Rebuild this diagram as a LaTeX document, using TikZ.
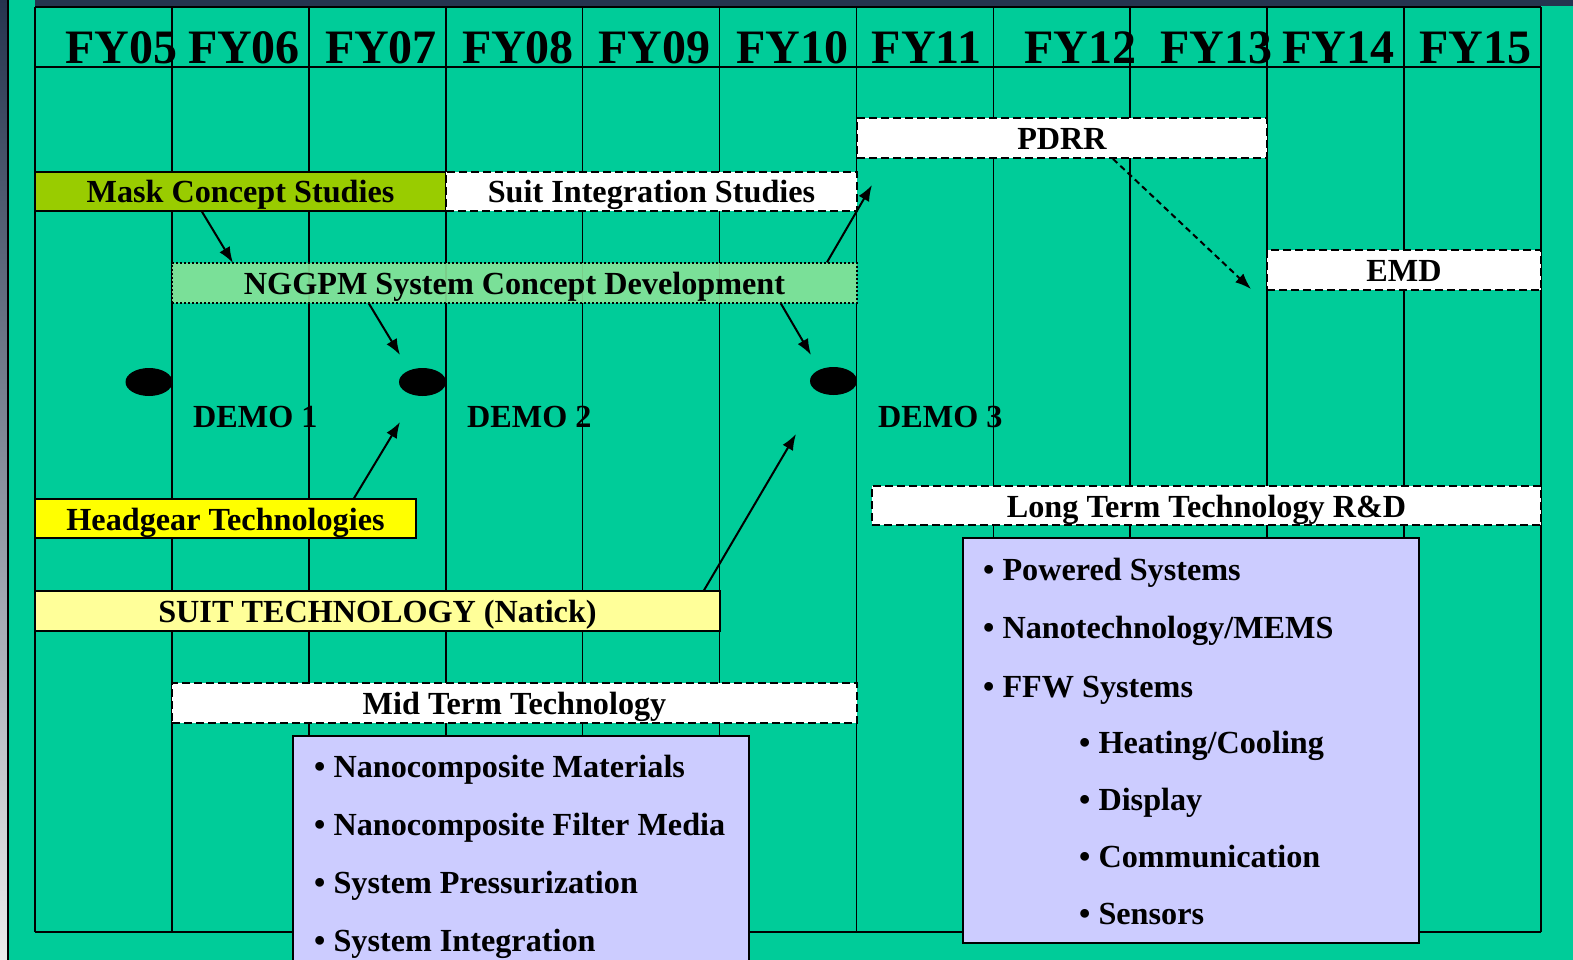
\documentclass[tikz,border=0pt]{standalone}
\usepackage{fontspec}
\setmainfont{Liberation Serif}
\usetikzlibrary{arrows.meta,shapes.geometric}

\definecolor{fondo}{HTML}{00CC99}
\definecolor{blunotte}{HTML}{25344F}
\definecolor{verdemask}{HTML}{99CC00}
\definecolor{verdechiaro}{HTML}{88E398}
\definecolor{giallo}{HTML}{FFFF00}
\definecolor{giallino}{HTML}{FFFF99}
\definecolor{lavanda}{HTML}{CCCCFF}

\tikzset{
	barra/.style={draw, line width=1.5pt, inner sep=0pt, text height=23pt, text depth=0pt,
		font=\fontsize{32.2}{36}\selectfont\bfseries},
	tratteggio/.style={barra, fill=white, line width=1.8pt, dash pattern=on 8pt off 4pt},
	anno/.style={anchor=base, inner sep=0pt, font=\fontsize{48}{50}\selectfont\bfseries},
	testo/.style={anchor=base west, inner sep=0pt, font=\fontsize{32.2}{36}\selectfont\bfseries},
	riquadro/.style={draw, line width=1.5pt, fill=lavanda, inner sep=0pt},
	demo/.style={ellipse, fill=black, inner sep=0pt, minimum width=47pt, minimum height=28pt},
	freccia/.style={line width=2pt, -{Latex[length=16pt,width=12pt]}}
}

\begin{document}
\begin{tikzpicture}[x=1pt, y=-1pt]
	\useasboundingbox (0,0) rectangle (1573,960);
	
	% sfondo
	\fill[fondo] (8,0) rectangle (1573,960);
	\shade[top color=blunotte, bottom color=gray!15] (0,0) rectangle (7,960);
	\fill[blunotte] (35,0) rectangle (1573,6);
	\draw[line width=2pt] (8,0) -- (8,960);
	
	% griglia degli anni
	\foreach \i in {0,...,11}
		\draw[line width=1.6pt] ({35+136.9*\i},7) -- ({35+136.9*\i},932);
	\draw[line width=1.6pt] (35,7) -- (1541,7);
	\draw[line width=1.6pt] (35,67) -- (1541,67);
	\draw[line width=1.6pt] (35,932) -- (1541,932);
	
	\foreach \x/\n in {121.5/05, 244/06, 381/07, 518/08, 654.5/09, 792/10,
		926.5/11, 1080/12, 1216/13, 1338/14, 1475/15}
		\node[anno] (fy\n) at (\x,64) {FY\n};
	
	% barre
	\node[barra, fill=verdemask, minimum width=411pt, minimum height=39pt] (mask) at (240.5,191.5) {Mask Concept Studies};
	\node[tratteggio, minimum width=411pt, minimum height=39pt] (suitint) at (651.5,191.5) {Suit Integration Studies};
	\node[tratteggio, minimum width=410pt, minimum height=40pt] (pdrr) at (1062,138) {PDRR};
	\node[tratteggio, minimum width=274pt, minimum height=40pt] (emd) at (1404,270) {EMD};
	\node[barra, fill=verdechiaro, fill opacity=0.9, text opacity=1, dash pattern=on 2pt off 2pt,
		minimum width=685pt, minimum height=40pt] (nggpm) at (514.5,283) {NGGPM System Concept Development};
	\node[barra, fill=giallo, minimum width=381pt, minimum height=39pt] (headgear) at (225.5,518.5) {Headgear Technologies};
	\node[barra, fill=giallino, minimum width=685pt, minimum height=40pt] (suittech) at (377.5,611) {SUIT TECHNOLOGY (Natick)};
	\node[tratteggio, minimum width=685pt, minimum height=40pt] (midterm) at (514.5,703) {Mid Term Technology};
	\node[tratteggio, minimum width=669pt, minimum height=39pt] (longterm) at (1206.5,505.5) {Long Term Technology R\&D};
	
	% dimostratori
	\node[demo] (demo1) at (149,382) {};
	\node[demo] (demo2) at (422.5,382) {};
	\node[demo] (demo3) at (833.5,381) {};
	\node[testo] (lab1) at (193,427) {DEMO 1};
	\node[testo] (lab2) at (467,427) {DEMO 2};
	\node[testo] (lab3) at (878,427) {DEMO 3};
	
	% frecce
	\coordinate (p1) at (233,263);
	\coordinate (p2) at (400,355);
	\coordinate (p3) at (872,185);
	\coordinate (p4) at (811,355);
	\coordinate (p5) at (400,422);
	\coordinate (p6) at (796,434);
	\coordinate (p7) at (1251,289);
	\draw[freccia] ([xshift=-38.5pt]mask.south) -- (p1);
	\draw[freccia] ([xshift=-145.5pt]nggpm.south) -- (p2);
	\draw[freccia] ([xshift=312.5pt]nggpm.north) -- (p3);
	\draw[freccia] ([xshift=266.5pt]nggpm.south) -- (p4);
	\draw[freccia] ([xshift=128.5pt]headgear.north) -- (p5);
	\draw[freccia] ([xshift=326.5pt]suittech.north) -- (p6);
	\draw[freccia, dash pattern=on 6pt off 4pt] ([xshift=51pt]pdrr.south) -- (p7);
	
	% elenchi
	\node[riquadro, minimum width=456pt, minimum height=250pt] (midbox) at (521,861) {};
	\foreach \t [count=\i] in {Nanocomposite Materials, Nanocomposite Filter Media,
		System Pressurization, System Integration}
		\node[testo] (mid\i) at (314,{777+58*(\i-1)}) {\textbullet\ \t};
	
	\node[riquadro, minimum width=456pt, minimum height=405pt] (longbox) at (1191,740.5) {};
	\foreach \t [count=\i] in {Powered Systems, Nanotechnology/MEMS, FFW Systems}
		\node[testo] (long\i) at (983,{580+58.5*(\i-1)}) {\textbullet\ \t};
	\foreach \t [count=\i] in {Heating/Cooling, Display, Communication, Sensors}
		\node[testo] (sub\i) at (1079,{753+57.3*(\i-1)}) {\textbullet\ \t};
\end{tikzpicture}
\end{document}
